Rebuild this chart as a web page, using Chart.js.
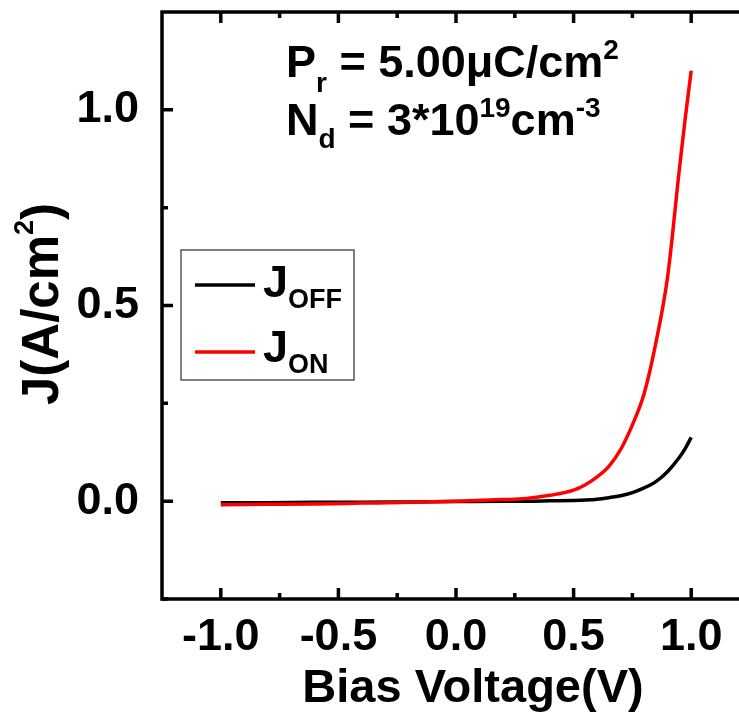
<!DOCTYPE html>
<html>
<head>
<meta charset="utf-8">
<script src="https://cdn.jsdelivr.net/npm/chart.js@4.4.1/dist/chart.umd.min.js"></script>
<style>
  html, body { margin: 0; padding: 0; background: #fff; overflow: hidden; }
  #wrap { width: 762px; height: 715px; }
</style>
</head>
<body>
<div id="wrap"><canvas id="jv_graph" width="762" height="715"></canvas></div>
<script>
// values
const voltage = [-1.0, -0.8, -0.6, -0.4, -0.2, 0.0, 0.2, 0.3, 0.4, 0.5, 0.55, 0.6, 0.65, 0.7, 0.75, 0.8, 0.85, 0.9, 0.95, 0.975, 1.0];
const jOff = [-0.004, -0.004, -0.003, -0.003, -0.002, -0.001, 0.000, 0.000, 0.001, 0.002, 0.003, 0.005, 0.009, 0.014, 0.022, 0.034, 0.050, 0.076, 0.112, 0.135, 0.163];
const jOn = [-0.009, -0.008, -0.007, -0.005, -0.003, 0.000, 0.004, 0.007, 0.015, 0.028, 0.042, 0.062, 0.089, 0.132, 0.195, 0.275, 0.405, 0.575, 0.85, 0.98, 1.10];

const xTicks = [-1.0, -0.5, 0.0, 0.5, 1.0];
const xMinor = [-0.75, -0.25, 0.25, 0.75];
const yTicks = [0.0, 0.5, 1.0];
const yMinor = [-0.25, 0.25, 0.75];

const FONT = '"Liberation Sans", Arial, sans-serif';

// draws a run of text pieces with sub/superscripts, returns the width
function richText(ctx, x, y, parts, align) {
  let total = 0;
  parts.forEach(p => {
    ctx.font = 'bold ' + p[1] + 'px ' + FONT;
    total += ctx.measureText(p[0]).width;
  });
  let cx = align === 'center' ? x - total / 2 : x;
  parts.forEach(p => {
    ctx.font = 'bold ' + p[1] + 'px ' + FONT;
    ctx.fillText(p[0], cx, y + (p[2] || 0));
    cx += ctx.measureText(p[0]).width;
  });
  return total;
}

const framePlugin = {
  id: 'frame',
  afterDraw(chart) {
    const ctx = chart.ctx;
    const a = chart.chartArea;
    const xs = chart.scales.x;
    const ys = chart.scales.y;
    ctx.save();
    ctx.strokeStyle = '#000';
    ctx.lineWidth = 3.5;
    ctx.lineCap = 'butt';

    // inward ticks on all four sides
    const tick = (vals, len) => {
      vals.forEach(v => {
        const px = xs.getPixelForValue(v);
        ctx.beginPath();
        ctx.moveTo(px, a.bottom); ctx.lineTo(px, a.bottom - len);
        ctx.moveTo(px, a.top); ctx.lineTo(px, a.top + len);
        ctx.stroke();
      });
    };
    const tickY = (vals, len) => {
      vals.forEach(v => {
        const py = ys.getPixelForValue(v);
        ctx.beginPath();
        ctx.moveTo(a.left, py); ctx.lineTo(a.left + len, py);
        ctx.moveTo(a.right, py); ctx.lineTo(a.right - len, py);
        ctx.stroke();
      });
    };
    tick(xTicks, 11);
    tick(xMinor, 6);
    tickY(yTicks, 11);
    tickY(yMinor, 6);

    ctx.strokeRect(a.left, a.top, a.right - a.left, a.bottom - a.top);

    // axis titles
    ctx.fillStyle = '#000';
    ctx.textBaseline = 'alphabetic';
    ctx.textAlign = 'left';
    richText(ctx, 473, 702, [['Bias Voltage(V)', 47]], 'center');

    ctx.save();
    ctx.translate(58, 304);
    ctx.rotate(-Math.PI / 2);
    richText(ctx, 0, 0, [['J(A/cm', 51], ['2', 27, -25], [')', 51]], 'center');
    ctx.restore();

    // annotation
    richText(ctx, 286, 77, [['P', 45], ['r', 28, 15], [' = 5.00\u03bcC/cm', 45], ['2', 28, -18]]);
    richText(ctx, 286, 135, [['N', 45], ['d', 28, 13], [' = 3*10', 45], ['19', 28, -18], ['cm', 45], ['-3', 28, -18]]);

    // legend
    ctx.strokeStyle = '#555';
    ctx.lineWidth = 1.5;
    ctx.strokeRect(181, 250, 173, 130);
    ctx.lineWidth = 3.5;
    ctx.strokeStyle = '#000';
    ctx.beginPath(); ctx.moveTo(195, 285); ctx.lineTo(255, 285); ctx.stroke();
    ctx.strokeStyle = '#ff0000';
    ctx.beginPath(); ctx.moveTo(195, 352); ctx.lineTo(255, 352); ctx.stroke();
    richText(ctx, 263, 297, [['J', 45], ['OFF', 27, 11]]);
    richText(ctx, 263, 362, [['J', 45], ['ON', 27, 11]]);

    ctx.restore();
  }
};

const ctx = document.getElementById('jv_graph').getContext('2d');

const chart = new Chart(ctx, {
  type: 'line',
  data: {
    datasets: [{
      label: 'J_ON',
      data: voltage.map((v, i) => ({ x: v, y: jOn[i] })),
      borderColor: '#ff0000',
      borderWidth: 3.5,
      pointRadius: 0,
      cubicInterpolationMode: 'monotone'
    }, {
      label: 'J_OFF',
      data: voltage.map((v, i) => ({ x: v, y: jOff[i] })),
      borderColor: '#000000',
      borderWidth: 3.5,
      pointRadius: 0,
      cubicInterpolationMode: 'monotone'
    }]
  },
  options: {
    responsive: false,
    animation: false,
    layout: { padding: { top: 12, right: 12, left: 0, bottom: 0 } },
    plugins: { legend: { display: false }, tooltip: { enabled: false } },
    scales: {
      x: {
        type: 'linear',
        min: -1.25,
        max: 1.25,
        grid: { display: false },
        border: { display: false },
        afterBuildTicks: s => { s.ticks = xTicks.map(v => ({ value: v })); },
        afterFit: s => { s.height = 116; s.paddingLeft = 0; s.paddingRight = 0; },
        ticks: {
          color: '#000',
          padding: 8,
          maxRotation: 0,
          font: { family: FONT, size: 45, weight: 'bold', lineHeight: 1 },
          callback: v => v.toFixed(1)
        }
      },
      y: {
        min: -0.25,
        max: 1.25,
        grid: { display: false },
        border: { display: false },
        afterBuildTicks: s => { s.ticks = yTicks.map(v => ({ value: v })); },
        afterFit: s => { s.width = 162; s.paddingTop = 0; s.paddingBottom = 0; },
        ticks: {
          color: '#000',
          padding: 15,
          font: { family: FONT, size: 45, weight: 'bold', lineHeight: 1 },
          callback: v => v.toFixed(1)
        }
      }
    }
  },
  plugins: [framePlugin]
});
</script>
</body>
</html>
